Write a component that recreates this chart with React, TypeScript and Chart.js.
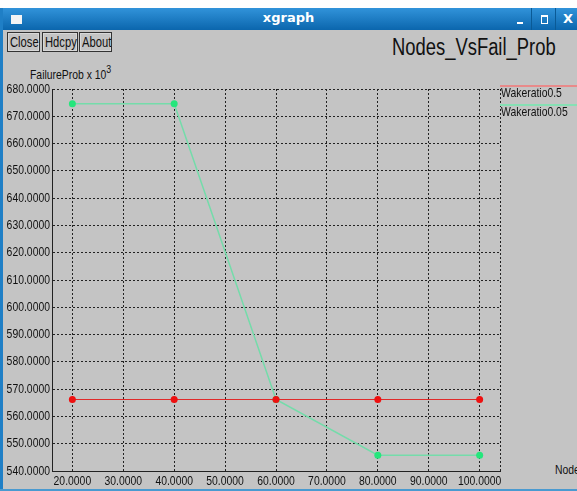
import React, { useEffect, useRef } from "react";
import { Chart, registerables } from "chart.js";
Chart.register(...registerables);

const nodes = [20, 40, 60, 80, 100];
const wakeratio05 = [566.2, 566.2, 566.2, 566.2, 566.2];
const wakeratio005 = [674.6, 674.6, 566.2, 545.8, 545.8];
const xTicks = [20, 30, 40, 50, 60, 70, 80, 90, 100];
const seriesNames = ["Wakeratio0.5", "Wakeratio0.05"];
const chartTitle = "Nodes_VsFail_Prob";
const yTitle = "FailureProb x 10";
const xTitle = "Nodes";

const FONT = "'Liberation Sans', Arial, sans-serif";
const SQUEEZE = 0.8;

const legendLineColors = ["#e88a8a", "#86e0b4"];

function squeezedText(ctx: CanvasRenderingContext2D, text: string, x: number, y: number, align: CanvasTextAlign) {
  ctx.save();
  ctx.translate(x, y);
  ctx.scale(SQUEEZE, 1);
  ctx.textAlign = align;
  ctx.textBaseline = "middle";
  ctx.fillText(text, 0, 0);
  ctx.restore();
}

const frameAndLegend = {
  id: "frameAndLegend",
  afterDraw(chart: any) {
    const { ctx, chartArea } = chart;
    const xs = chart.scales.x;
    const ys = chart.scales.y;
    ctx.save();
    ctx.setLineDash([2, 2]);
    ctx.strokeStyle = "#222";
    ctx.lineWidth = 1;
    const rx = Math.round(chartArea.right) + 0.5;
    ctx.beginPath();
    ctx.moveTo(rx, chartArea.top);
    ctx.lineTo(rx, chartArea.bottom);
    ctx.stroke();
    ctx.setLineDash([]);

    ctx.fillStyle = "#111";
    ctx.font = "13px " + FONT;
    xs.ticks.forEach((t: any) => {
      squeezedText(ctx, Number(t.value).toFixed(4), xs.getPixelForValue(t.value), chartArea.bottom + 10, "center");
    });
    ys.ticks.forEach((t: any) => {
      squeezedText(ctx, Number(t.value).toFixed(4), chartArea.left - 2, ys.getPixelForValue(t.value), "right");
    });

    const ly = [86, 105];
    chart.data.datasets.forEach((ds: any, i: number) => {
      ctx.strokeStyle = legendLineColors[i];
      ctx.lineWidth = 2;
      ctx.beginPath();
      ctx.moveTo(chartArea.right, ly[i]);
      ctx.lineTo(chart.width, ly[i]);
      ctx.stroke();
      ctx.fillStyle = "#111";
      squeezedText(ctx, ds.label, chartArea.right + 1, ly[i] + 7.5, "left");
    });
    ctx.restore();
  },
};

function App() {
  const ref = useRef<HTMLCanvasElement | null>(null);
  useEffect(() => {
    document.body.style.margin = "0";
    const canvas = ref.current!;
    const chart = new Chart(canvas, {
      type: "line",
      data: {
        datasets: [
          {
            label: seriesNames[0],
            data: nodes.map((x, i) => ({ x, y: wakeratio05[i] })),
            borderColor: "#e02a2a",
            borderWidth: 1.2,
            pointRadius: 3.5,
            pointBorderWidth: 0,
            pointBackgroundColor: "#ee1010",
            tension: 0,
          },
          {
            label: seriesNames[1],
            data: nodes.map((x, i) => ({ x, y: wakeratio005[i] })),
            borderColor: "#74dcaa",
            borderWidth: 1.5,
            pointRadius: 3.5,
            pointBorderWidth: 0,
            pointBackgroundColor: "#25e67c",
            tension: 0,
          },
        ],
      },
      options: {
        animation: false,
        responsive: false,
        layout: { padding: { left: 0, top: 89, right: 77, bottom: 0 } },
        plugins: { legend: { display: false }, tooltip: { enabled: false } },
        scales: {
          x: {
            type: "linear",
            min: 16,
            max: 104,
            afterBuildTicks: (s: any) => {
              s.ticks = xTicks.map((v) => ({ value: v }));
            },
            afterFit: (s: any) => {
              s.height = 20;
            },
            ticks: { display: false, autoSkip: false, maxRotation: 0 },
            grid: { color: "#222", lineWidth: 1, drawTicks: false },
            border: { display: true, color: "#222", dash: [2, 2] },
          },
          y: {
            min: 540,
            max: 680,
            afterFit: (s: any) => {
              s.width = 52;
            },
            ticks: { display: false, stepSize: 10 },
            grid: { color: "#222", lineWidth: 1, drawTicks: false },
            border: { display: true, color: "#222", dash: [2, 2] },
          },
        },
      },
      plugins: [frameAndLegend],
    } as any);
    return () => chart.destroy();
  }, []);

  const squeeze: React.CSSProperties = {
    transform: `scaleX(${SQUEEZE})`,
    transformOrigin: "left center",
    whiteSpace: "nowrap",
    display: "inline-block",
  };

  const btn: React.CSSProperties = {
    position: "absolute",
    top: 32,
    height: 20,
    border: "1px solid #333",
    boxShadow: "inset 0 0 0 1px #d8d8d8",
    boxSizing: "border-box",
    font: "14px " + FONT,
    lineHeight: "18px",
    color: "#111",
    overflow: "hidden",
    paddingLeft: 2,
  };

  return (
    <div
      style={{
        position: "relative",
        width: 577,
        height: 491,
        overflow: "hidden",
        background: "#c4c4c4",
        fontFamily: FONT,
      }}
    >
      <div style={{ position: "absolute", left: 0, top: 0, width: 577, height: 8, background: "#fff" }} />
      <div
        style={{
          position: "absolute",
          left: 0,
          top: 8,
          width: 577,
          height: 22,
          background: "linear-gradient(#3193da, #0b66ad)",
        }}
      >
        <div style={{ position: "absolute", left: 11, top: 7, width: 11, height: 9, background: "#f4f4f4" }} />
        <div
          style={{
            position: "absolute",
            left: 0,
            width: 577,
            top: 2,
            textAlign: "center",
            color: "#fff",
            font: "bold 13px 'DejaVu Sans', sans-serif",
          }}
        >
          xgraph
        </div>
        <div style={{ position: "absolute", left: 531, top: 0, width: 1, height: 22, background: "#0a5a96" }} />
        <div style={{ position: "absolute", left: 555, top: 0, width: 1, height: 22, background: "#0a5a96" }} />
        <div style={{ position: "absolute", left: 517, top: 14, width: 6, height: 2, background: "#fff" }} />
        <div style={{ position: "absolute", left: 541, top: 7, width: 5, height: 6, border: "1px solid #fff", borderTopWidth: 2 }} />
        <div style={{ position: "absolute", left: 563, top: 3, color: "#fff", font: "bold 13px 'DejaVu Sans', sans-serif" }}>X</div>
      </div>
      <div style={{ position: "absolute", left: 0, top: 8, width: 3, height: 483, background: "#1f7fc6" }} />
      <div style={{ position: "absolute", left: 0, top: 489, width: 577, height: 2, background: "#4a9ad0" }} />
      <div style={{ ...btn, left: 7, width: 33 }}><span style={squeeze}>Close</span></div>
      <div style={{ ...btn, left: 42, width: 36 }}><span style={squeeze}>Hdcpy</span></div>
      <div style={{ ...btn, left: 79, width: 33 }}><span style={squeeze}>About</span></div>
      <div style={{ position: "absolute", left: 392, top: 34, font: "23px " + FONT, color: "#111" }}>
        <span style={squeeze}>{chartTitle}</span>
      </div>
      <div style={{ position: "absolute", left: 30, top: 64, font: "13px " + FONT, color: "#111" }}>
        <span style={squeeze}>
          {yTitle}
          <sup style={{ fontSize: 11, position: "relative", top: -1 }}>3</sup>
        </span>
      </div>
      <div style={{ position: "absolute", left: 555, top: 462, font: "13px " + FONT, color: "#111" }}>
        <span style={squeeze}>{xTitle}</span>
      </div>
      <canvas
        ref={ref}
        width={577}
        height={491}
        style={{ position: "absolute", left: 0, top: 0, width: 577, height: 491 }}
      />
    </div>
  );
}

export default App;
